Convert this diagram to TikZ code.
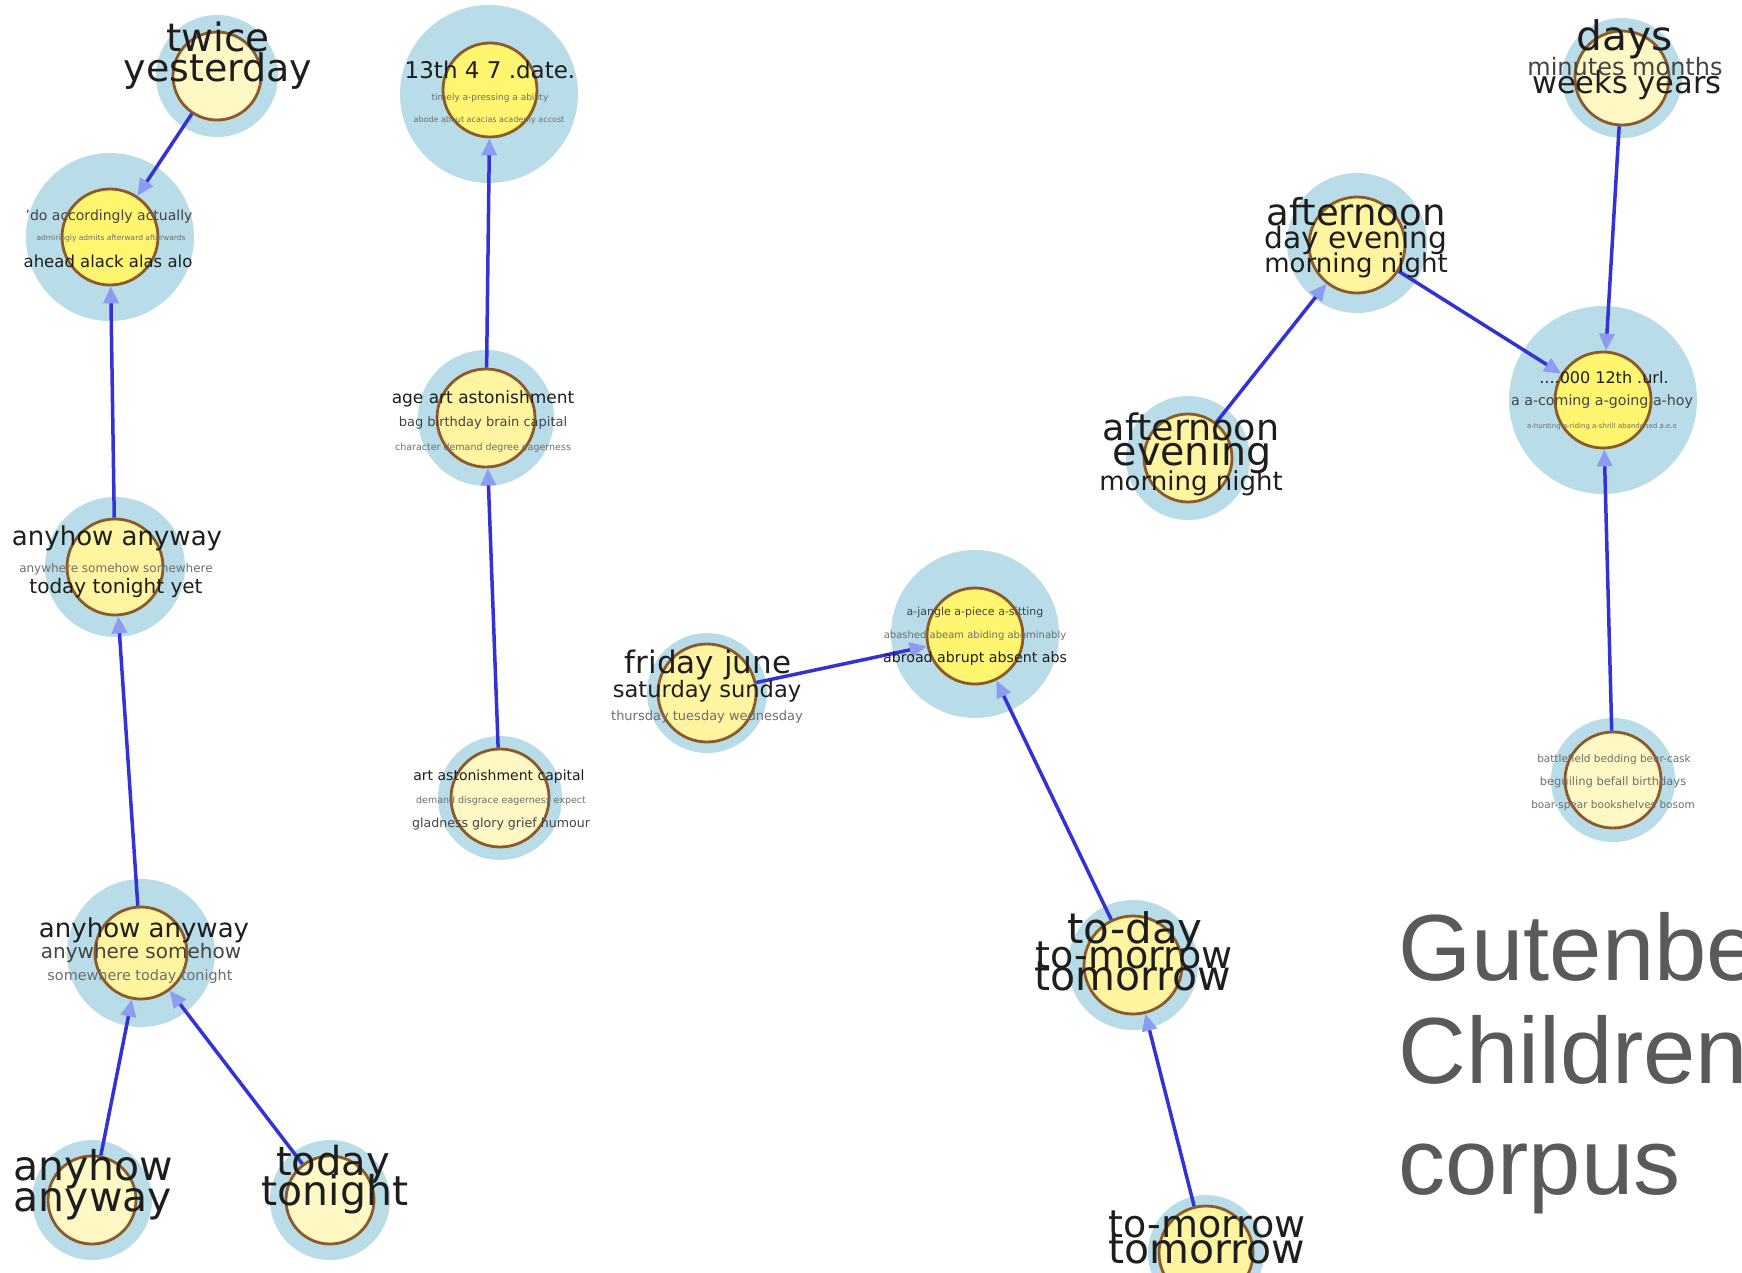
\documentclass[tikz,border=0pt]{standalone}
\usepackage{fontspec}
\setmainfont{DejaVu Sans}
\newfontfamily\titlefont{Liberation Sans}
\usetikzlibrary{arrows.meta}
\definecolor{haloblue}{RGB}{184,220,232}
\definecolor{coreA}{RGB}{255,245,110}
\definecolor{coreB}{RGB}{255,244,160}
\definecolor{coreC}{RGB}{255,247,196}
\definecolor{rim}{RGB}{140,90,42}
\definecolor{edgeblue}{RGB}{50,50,215}
\definecolor{tipblue}{RGB}{140,156,240}
\definecolor{tdark}{RGB}{30,30,30}
\definecolor{tmid}{RGB}{68,68,68}
\definecolor{tlight}{RGB}{110,110,110}
\definecolor{titlegray}{RGB}{90,90,90}
\tikzset{
  halonode/.style={circle,fill=haloblue,draw=none,inner sep=0pt,minimum size=#1},
  corenode/.style={circle,draw=rim,line width=2.8pt,inner sep=0pt,minimum size=#1},
  tline/.style={anchor=base,inner sep=0pt,outer sep=0pt},
  link/.style={draw=edgeblue,line width=3.5pt,-{Triangle[length=17pt,width=15pt,color=tipblue]}},
  titleline/.style={anchor=base west,inner sep=0pt,text=titlegray,font=\titlefont\fontsize{94}{94}\selectfont}
}
\newcommand\wline[5]{\node[tline,text=#4,font=\fontsize{#3}{#3}\selectfont] (#1) at (#2) {#5};}
\begin{document}
\begin{tikzpicture}[x=1pt,y=-1pt]
\useasboundingbox (0,0) rectangle (1742,1272);
\clip (0,0) rectangle (1742,1272);
% halos
\node[halonode=122] (h1) at (217,76) {};
\node[halonode=168] (h2) at (110,237) {};
\node[halonode=140] (h3) at (115,567) {};
\node[halonode=148] (h4) at (141,953) {};
\node[halonode=120] (h5) at (92,1200) {};
\node[halonode=120] (h6) at (330,1200) {};
\node[halonode=178] (h7) at (489,94) {};
\node[halonode=136] (h8) at (486,418) {};
\node[halonode=124] (h9) at (500,798) {};
\node[halonode=120] (h10) at (707,693) {};
\node[halonode=168] (h11) at (975,634) {};
\node[halonode=130] (h12) at (1133,965) {};
\node[halonode=116] (h13) at (1206,1253) {};
\node[halonode=140] (h14) at (1357,243) {};
\node[halonode=124] (h15) at (1188,458) {};
\node[halonode=188] (h16) at (1603,400) {};
\node[halonode=120] (h17) at (1622,78) {};
\node[halonode=124] (h18) at (1613,780) {};
% cores
\node[corenode=88,fill=coreC] (c1) at (217,76) {};
\node[corenode=96,fill=coreA] (c2) at (110,237) {};
\node[corenode=96,fill=coreB] (c3) at (115,567) {};
\node[corenode=92,fill=coreB] (c4) at (141,953) {};
\node[corenode=88,fill=coreC] (c5) at (92,1200) {};
\node[corenode=88,fill=coreC] (c6) at (330,1200) {};
\node[corenode=94,fill=coreA] (c7) at (490,90) {};
\node[corenode=98,fill=coreB] (c8) at (486,418) {};
\node[corenode=98,fill=coreC] (c9) at (500,798) {};
\node[corenode=98,fill=coreB] (c10) at (707,693) {};
\node[corenode=96,fill=coreA] (c11) at (975,636) {};
\node[corenode=98,fill=coreB] (c12) at (1133,965) {};
\node[corenode=94,fill=coreB] (c13) at (1206,1253) {};
\node[corenode=96,fill=coreB] (c14) at (1357,245) {};
\node[corenode=88,fill=coreB] (c15) at (1188,458) {};
\node[corenode=96,fill=coreA] (c16) at (1603,400) {};
\node[corenode=94,fill=coreC] (c17) at (1622,78) {};
\node[corenode=96,fill=coreC] (c18) at (1613,780) {};
% links
\draw[link] (c1) -- (c2);
\draw[link] (c3) -- (c2);
\draw[link] (c4) -- (c3);
\draw[link] (c5) -- (c4);
\draw[link] (c6) -- (c4);
\draw[link] (c8) -- (c7);
\draw[link] (c9) -- (c8);
\draw[link] (c10) -- (c11);
\draw[link] (c12) -- (c11);
\draw[link] (c13) -- (c12);
\draw[link] (c15) -- (c14);
\draw[link] (c14) -- (c16);
\draw[link] (c17) -- (c16);
\draw[link] (c18) -- (c16);
% texts
\wline{t1a}{218,51}{39}{tdark}{twice}
\wline{t1b}{218,81}{38}{tdark}{yesterday}
\wline{t2a}{109,220}{14}{tmid}{'do accordingly actually}
\wline{t2b}{111,240}{7.5}{tlight}{admiringly admits afterward afterwards}
\wline{t2c}{108,267}{16.5}{tdark}{ahead alack alas alo}
\wline{t3a}{117,545}{26}{tdark}{anyhow anyway}
\wline{t3b}{116,572}{12}{tlight}{anywhere somehow somewhere}
\wline{t3c}{116,593}{20}{tdark}{today tonight yet}
\wline{t4a}{144,937}{26}{tdark}{anyhow anyway}
\wline{t4b}{141,958}{20}{tmid}{anywhere somehow}
\wline{t4c}{140,980}{14.4}{tlight}{somewhere today tonight}
\wline{t5a}{93,1180}{41}{tdark}{anyhow}
\wline{t5b}{93,1211}{41}{tdark}{anyway}
\wline{t6a}{333,1175}{40}{tdark}{today}
\wline{t6b}{335,1205}{41}{tdark}{tonight}
\wline{t7a}{490,78}{23}{tdark}{13th 4 7 .date.}
\wline{t7b}{490,100}{9}{tlight}{timely a-pressing a ability}
\wline{t7c}{489,122}{8}{tlight}{abode about acacias academy accost}
\wline{t8a}{483,403}{17}{tdark}{age art astonishment}
\wline{t8b}{483,426}{13}{tmid}{bag birthday brain capital}
\wline{t8c}{483,450}{9.5}{tlight}{character demand degree eagerness}
\wline{t9a}{499,780}{14}{tdark}{art astonishment capital}
\wline{t9b}{501,803}{9.5}{tlight}{demand disgrace eagerness expect}
\wline{t9c}{501,827}{12.6}{tmid}{gladness glory grief humour}
\wline{t10a}{708,673}{31}{tdark}{friday june}
\wline{t10b}{707,697}{22.6}{tdark}{saturday sunday}
\wline{t10c}{707,720}{13}{tlight}{thursday tuesday wednesday}
\wline{t11a}{975,615}{11}{tmid}{a-jangle a-piece a-sitting}
\wline{t11b}{975,638}{10}{tlight}{abashed abeam abiding abominably}
\wline{t11c}{975,662}{14.2}{tdark}{abroad abrupt absent abs}
\wline{t12a}{1135,943}{42}{tdark}{to-day}
\wline{t12b}{1134,968}{38}{tdark}{to-morrow}
\wline{t12c}{1133,990}{41}{tdark}{tomorrow}
\wline{t13a}{1207,1237}{38}{tdark}{to-morrow}
\wline{t13b}{1207,1263}{41}{tdark}{tomorrow}
\wline{t14a}{1356,225}{37}{tdark}{afternoon}
\wline{t14b}{1356,248}{29.7}{tdark}{day evening}
\wline{t14c}{1356,272}{26}{tdark}{morning night}
\wline{t15a}{1191,440}{36.5}{tdark}{afternoon}
\wline{t15b}{1192,465}{39.6}{tdark}{evening}
\wline{t15c}{1191,490}{26}{tdark}{morning night}
\wline{t16a}{1604,383}{16}{tdark}{....000 12th .url.}
\wline{t16b}{1602,405}{14.2}{tmid}{a a-coming a-going a-hoy}
\wline{t16c}{1602,428}{7}{tlight}{a-hunting a-riding a-shrill abandoned a.e.o}
\wline{t17a}{1625,50}{40.7}{tdark}{days}
\wline{t17b}{1625,75}{24}{tmid}{minutes months}
\wline{t17c}{1627,93}{30.5}{tdark}{weeks years}
\wline{t18a}{1614,762}{10.5}{tlight}{battlefield bedding beer-cask}
\wline{t18b}{1613,785}{11.5}{tlight}{beguiling befall birthdays}
\wline{t18c}{1613,808}{10.5}{tlight}{boar-spear bookshelves bosom}
% title
\node[titleline] (title1) at (1398,980) {Gutenberg};
\node[titleline] (title2) at (1398,1083) {Children's};
\node[titleline] (title3) at (1398,1194) {corpus};
\end{tikzpicture}
\end{document}
